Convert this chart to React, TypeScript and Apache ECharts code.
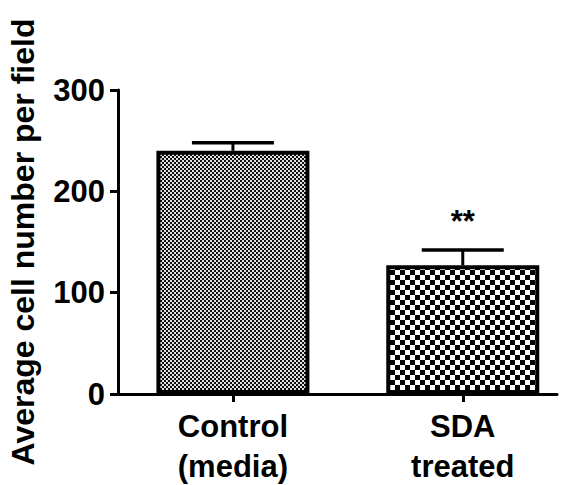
import React, { useEffect, useRef } from "react";
import * as echarts from "echarts";

// ---- data ----
const categories = ["Control\n(media)", "SDA\ntreated"];
const means = [240, 127];
const sems = [8, 15];
const significance = ["", "**"];
const yAxisTitle = "Average cell number per field";
const yMin = 0;
const yMax = 300;
const yInterval = 100;

const FONT = "'Liberation Sans', Arial, Helvetica, sans-serif";

function makeChecker(cell: number, dark: string, light: string) {
  const c = document.createElement("canvas");
  c.width = cell * 2;
  c.height = cell * 2;
  const ctx = c.getContext("2d")!;
  ctx.fillStyle = light;
  ctx.fillRect(0, 0, cell * 2, cell * 2);
  ctx.fillStyle = dark;
  ctx.fillRect(0, 0, cell, cell);
  ctx.fillRect(cell, cell, cell, cell);
  return c;
}

export default function App() {
  const ref = useRef<HTMLDivElement>(null);
  useEffect(() => {
    if (!ref.current) return;
    const chart = echarts.init(ref.current, undefined, { renderer: "svg" });
    const patterns = [makeChecker(2, "#111", "#e0e0e0"), makeChecker(5, "#000", "#fff")];
    const pos = categories.map((_, i) => 2 * i + 1);

    chart.setOption({
      animation: false,
      grid: {
        left: 118,
        right: 19,
        top: 90,
        bottom: 91,
        containLabel: false,
        outerBoundsMode: "none",
      },
      graphic: [
        {
          type: "text",
          x: 23,
          y: 242,
          rotation: Math.PI / 2,
          style: {
            text: yAxisTitle,
            fill: "#000",
            font: `bold 32px ${FONT}`,
            align: "center",
            verticalAlign: "middle",
          },
        },
      ],
      xAxis: {
        type: "value",
        min: 0,
        max: 3.82,
        splitLine: { show: false },
        axisLine: { show: true, lineStyle: { color: "#000", width: 3 } },
        axisTick: {
          show: true,
          customValues: pos,
          length: 8,
          lineStyle: { color: "#000", width: 3 },
        },
        axisLabel: {
          customValues: pos,
          margin: 12,
          formatter: (v: number) => {
            const i = Math.round((v - 1) / 2);
            return categories[i] ?? "";
          },
          color: "#000",
          fontFamily: FONT,
          fontWeight: "bold",
          fontSize: 31,
          lineHeight: 40,
        },
      },
      yAxis: {
        type: "value",
        min: yMin,
        max: yMax,
        interval: yInterval,
        splitLine: { show: false },
        axisLine: { show: true, lineStyle: { color: "#000", width: 3 } },
        axisTick: { show: true, length: 8, lineStyle: { color: "#000", width: 3 } },
        axisLabel: {
          margin: 13,
          color: "#000",
          fontFamily: FONT,
          fontWeight: "bold",
          fontSize: 31,
        },
      },
      series: [
        {
          type: "bar",
          barWidth: 153,
          data: means.map((m, i) => ({
            value: [pos[i], m],
            itemStyle: {
              color: { image: patterns[i], repeat: "repeat" },
              borderColor: "#000",
              borderWidth: 4,
            },
          })),
          z: 2,
        },
        {
          type: "custom",
          z: 3,
          data: means.map((m, i) => [pos[i], m, m + sems[i], i]),
          renderItem: (params: any, api: any) => {
            const x = api.value(0);
            const base = api.coord([x, api.value(1)]);
            const top = api.coord([x, api.value(2)]);
            const idx = api.value(3);
            const half = 41;
            const children: any[] = [
              {
                type: "line",
                shape: { x1: base[0], y1: base[1], x2: top[0], y2: top[1] },
                style: { stroke: "#000", lineWidth: 3 },
              },
              {
                type: "line",
                shape: { x1: top[0] - half, y1: top[1], x2: top[0] + half, y2: top[1] },
                style: { stroke: "#000", lineWidth: 3.5 },
              },
            ];
            const sig = significance[idx];
            if (sig) {
              children.push({
                type: "text",
                x: top[0],
                y: top[1] - 29,
                style: {
                  text: sig,
                  fill: "#000",
                  font: `bold 31px ${FONT}`,
                  align: "center",
                  verticalAlign: "middle",
                },
              });
            }
            return { type: "group", children };
          },
        },
      ],
    });
    return () => chart.dispose();
  }, []);
  return (
    <div
      ref={ref}
      style={{ position: "fixed", left: 0, top: 0, width: 576, height: 485, background: "#fff" }}
    />
  );
}
